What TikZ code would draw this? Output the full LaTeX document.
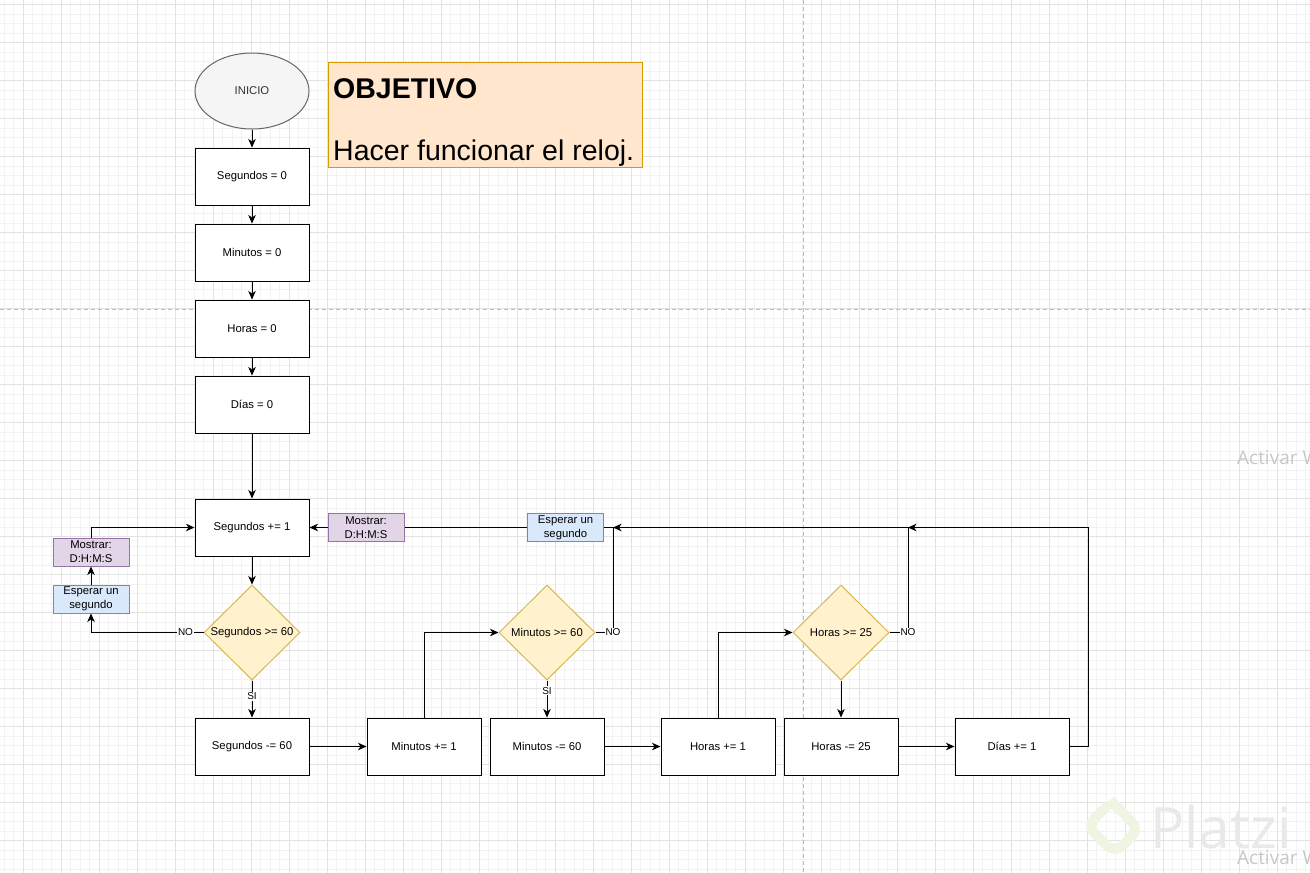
\documentclass[tikz,border=0pt]{standalone}
\usepackage{fontspec}
\setmainfont{Liberation Sans}
\newfontfamily\wmfont{Open Sans}
\usetikzlibrary{shapes.geometric,arrows.meta,calc}
\definecolor{minorg}{HTML}{F2F2F2}
\definecolor{majorg}{HTML}{E2E2E2}
\definecolor{pageline}{HTML}{BBBBBB}
\definecolor{ynfill}{HTML}{FFF2CC}
\definecolor{ynline}{HTML}{D6B656}
\definecolor{blfill}{HTML}{DAE8FC}
\definecolor{blline}{HTML}{6C8EBF}
\definecolor{pufill}{HTML}{E1D5E7}
\definecolor{puline}{HTML}{9673A6}
\definecolor{orfill}{HTML}{FFE6CC}
\definecolor{orline}{HTML}{D79B00}
\definecolor{gyfill}{HTML}{F5F5F5}
\definecolor{gyline}{HTML}{666666}
\definecolor{gytext}{HTML}{333333}
\definecolor{wmtext}{HTML}{C8C8C8}
\definecolor{wmlogo}{HTML}{E9E9E9}
\definecolor{wmgreen}{HTML}{EEF5E2}
\begin{document}
\begin{tikzpicture}[x=1pt,y=-1pt,
  minorgrid/.style={draw=minorg,line width=1pt},
  majorgrid/.style={draw=majorg,line width=1pt},
  lbl/.style={font=\fontsize{11.3}{13.5}\selectfont},
  procbox/.style={rectangle,draw=black,fill=white,line width=1pt,minimum width=114pt,minimum height=57pt,inner sep=0pt,lbl},
  decbox/.style={diamond,aspect=1,draw=ynline,fill=ynfill,line width=1pt,minimum width=96pt,minimum height=95pt,inner sep=0pt,lbl},
  smallbox/.style={rectangle,line width=1pt,minimum width=76pt,minimum height=28pt,inner sep=0pt,align=center,font=\fontsize{11.3}{14}\selectfont},
  waitbox/.style={smallbox,draw=blline,fill=blfill},
  showbox/.style={smallbox,draw=puline,fill=pufill},
  arr/.style={draw=black,line width=1pt,-{Stealth[length=8.5pt,width=7.5pt,inset=2.5pt]}},
  plain/.style={draw=black,line width=1pt},
  edgelbl/.style={fill=white,inner sep=1pt,font=\fontsize{10}{12}\selectfont}
]
\useasboundingbox (0,0) rectangle (1310,873);
\clip (0,0) rectangle (1310,873);
\fill[white] (0,0) rectangle (1310,873);
% grid
\foreach \i in {0,...,137} \draw[minorgrid] ({4+9.5*\i},0) -- ({4+9.5*\i},873);
\foreach \j in {0,...,91} \draw[minorgrid] (0,{4.5+9.5*\j}) -- (1310,{4.5+9.5*\j});
\foreach \i in {0,...,34} \draw[majorgrid] ({23+38*\i},0) -- ({23+38*\i},873);
\foreach \j in {0,...,22} \draw[majorgrid] (0,{4.5+38*\j}) -- (1310,{4.5+38*\j});
\draw[pageline,line width=1pt,dash pattern=on 4pt off 3pt] (803,0) -- (803,873);
\draw[pageline,line width=1pt,dash pattern=on 4pt off 3pt] (0,309) -- (1310,309);

% watermarks (behind)
\draw[wmgreen,line width=10pt,line join=round,rounded corners=10pt] (1110,800) -- (1139,829) -- (1115,853) -- (1087,826) -- (1108,805);
\node[anchor=base west,inner sep=0pt,text=wmlogo,font=\wmfont\fontsize{57}{62}\selectfont] (wm3) at (1150,848) {Platzi};
\node[anchor=base west,inner sep=0pt,text=wmtext,font=\wmfont\fontsize{19}{22}\selectfont] (wm1) at (1237,464) {Activar W};
\node[anchor=base west,inner sep=0pt,text=wmtext,font=\wmfont\fontsize{19}{22}\selectfont] (wm2) at (1237,864) {Activar W};

% objective
\node[rectangle,draw=orline,fill=orfill,line width=1pt,minimum width=314pt,minimum height=105pt,inner sep=0pt] (obj) at (485,114.5) {};
\node[anchor=base west,inner sep=0pt,font=\fontsize{28.5}{31}\selectfont\bfseries] (objt) at (333,98) {OBJETIVO};
\node[anchor=base west,inner sep=0pt,font=\fontsize{28.5}{31}\selectfont] (objd) at (333,160) {Hacer funcionar el reloj.};

% main column
\node[ellipse,draw=gyline,fill=gyfill,line width=1pt,minimum width=114pt,minimum height=76pt,inner sep=0pt,text=gytext,lbl] (inicio) at (252,91) {INICIO};
\node[procbox] (s0) at (252,176.5) {Segundos = 0};
\node[procbox] (m0) at (252,252.5) {Minutos = 0};
\node[procbox] (h0) at (252,328.5) {Horas = 0};
\node[procbox] (d0) at (252,404.5) {Días = 0};
\node[procbox] (sp1) at (252,527.5) {Segundos += 1};
\node[decbox] (dec1) at (252,632.5) {Segundos >= 60};
\node[procbox] (sm60) at (252,746.5) {Segundos -= 60};
\node[procbox] (mp1) at (424,746.5) {Minutos += 1};
\node[decbox] (dec2) at (547,632.5) {Minutos >= 60};
\node[procbox] (mm60) at (547,746.5) {Minutos -= 60};
\node[procbox] (hp1) at (718,746.5) {Horas += 1};
\node[decbox] (dec3) at (841,632.5) {Horas >= 25};
\node[procbox] (hm25) at (841,746.5) {Horas -= 25};
\node[procbox] (dp1) at (1012,746.5) {Días += 1};

% side boxes
\node[showbox] (mos1) at (91,552) {Mostrar:\\D:H:M:S};
\node[waitbox] (esp1) at (91,599) {Esperar un\\segundo};
\node[showbox] (mos2) at (366,527.5) {Mostrar:\\D:H:M:S};
\node[waitbox] (esp2) at (565.5,527.5) {Esperar un\\segundo};

\coordinate (c2) at (613,527.5);
\coordinate (c3) at (908,527.5);
\coordinate (c4) at (1088,746.5);

% connectors
\draw[arr] (inicio) -- (s0);
\draw[arr] (s0) -- (m0);
\draw[arr] (m0) -- (h0);
\draw[arr] (h0) -- (d0);
\draw[arr] (d0) -- (sp1);
\draw[arr] (sp1) -- (dec1);
\draw[arr] (dec1) -- node[edgelbl,pos=0.42]{SI} (sm60);
\draw[arr] (dec1.west) -| node[edgelbl,pos=0.08]{NO} (esp1.south);
\draw[arr] (esp1) -- (mos1);
\draw[arr] (mos1.north) |- (sp1.west);
\draw[arr] (sm60) -- (mp1);
\draw[arr] (mp1.north) |- (dec2.west);
\draw[arr] (dec2) -- node[edgelbl,pos=0.28]{SI} (mm60);
\draw[plain] (dec2.east) -| node[edgelbl,pos=0.5]{NO} (c2) -- (esp2.east);
\draw[plain] (esp2.west) -- (mos2.east);
\draw[arr] (mos2.west) -- (sp1.east);
\draw[arr] (mm60) -- (hp1);
\draw[arr] (hp1.north) |- (dec3.west);
\draw[arr] (dec3) -- (hm25);
\draw[arr] (hm25) -- (dp1);
\draw[arr] (dec3.east) -| node[edgelbl,pos=0.5]{NO} (c3) -- (c2);
\draw[arr] (dp1.east) -- (c4) |- (c3);
\end{tikzpicture}
\end{document}
